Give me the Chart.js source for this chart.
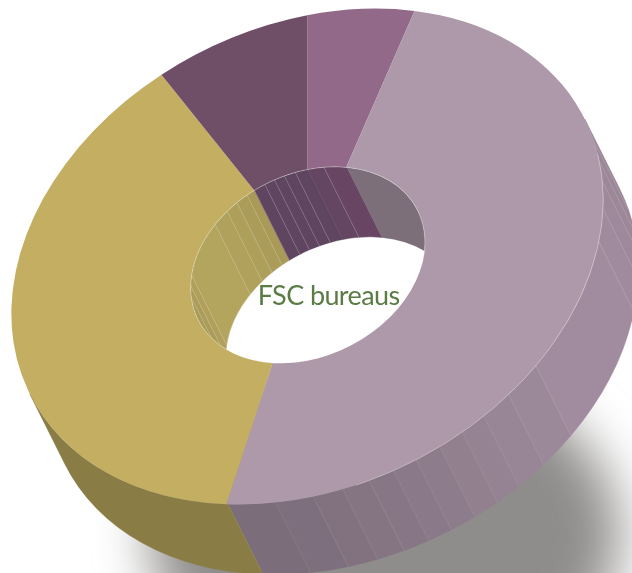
<!DOCTYPE html>
<html><head><meta charset="utf-8">
<style>html,body{margin:0;padding:0;background:#fff}canvas{display:block}</style>
<script src="https://cdn.jsdelivr.net/npm/chart.js@4"></script>
</head><body>
<canvas id="c" width="632" height="573"></canvas>
<script>
// Data: shares
const categories = ["Pink", "Mauve", "Gold", "Purple"];
const shareValues = [5.9, 48.5, 37.4, 8.2];
const shareColors = ["#93698a", "#ae99aa", "#c3ae62", "#6f4e68"];
const centerLabel = "FSC bureaus";
// Facets of the outer wall, in degrees, clockwise from the first slice
const outerFacetValues = [21.07,48.6,5.9,5.07,5.03,6.48,7.72,29.6,7.69,6.22,5.01,5.02,4.97,4.64,4.91,5.18,5.75,7.28,9.4,54.13,80.4,29.93];
const outerFacetColors = ["#93698a","#a08c9e","#988495","#9b8798","#9c8899","#9d899b","#9f8b9d","#a08c9e","#9b8899","#988696","#958393","#92808e","#8d7c8b","#897989","#867686","#857583","#827280","#7e6f7e","#7b6d7a","#8a7c45","#8a7c45","#6f4e68"];
// Facets of the inner wall
const innerFacetValues = [14.4,7,6.4,30.3,8.8,6.2,6,4.1,5.6,5,5,5.4,6.1,7.9,11.7,50.3,179.8];
const innerFacetColors = ["#a89a57","#ab9c59","#b0a05c","#b3a45e","#b0a15c","#ae9f5b","#ab9d59","#a99a57","#5f4560","#5f4560","#5f4560","#5f4560","#5f4560","#644662","#684663","#7c6f79","#ffffff"];

// Layout of the tilted ring
const tilt = {a:294.3, b:-31.28, c:-31.28, d:246.0};
const topCenter = [307.3, 256.5], holeCenter = [307.8, 265];
const holeRatio = 0.396, depth = [35, 70];

function place(ctx, arc, center, scale){
  const R = arc.outerRadius, s = (scale||1)/R;
  const a=tilt.a*s, b=tilt.b*s, c=tilt.c*s, d=tilt.d*s;
  ctx.transform(a,b,c,d, center[0]-a*arc.x-c*arc.y, center[1]-b*arc.x-d*arc.y);
}
function depthInChart(R){
  const det = tilt.a*tilt.d - tilt.b*tilt.c;
  return [(tilt.d*depth[0]-tilt.c*depth[1])/det*R, (-tilt.b*depth[0]+tilt.a*depth[1])/det*R];
}
function band(ctx, el, r, dp){
  ctx.beginPath();
  ctx.arc(el.x, el.y, r, el.startAngle, el.endAngle);
  ctx.arc(el.x+dp[0], el.y+dp[1], r, el.endAngle, el.startAngle, true);
  ctx.closePath();
}
function facing(el, dp){
  const m = (el.startAngle+el.endAngle)/2;
  return Math.cos(m)*dp[0]+Math.sin(m)*dp[1];
}
function hair(ctx, el, r, dp, style){
  const x=el.x+r*Math.cos(el.startAngle), y=el.y+r*Math.sin(el.startAngle);
  ctx.strokeStyle=style; ctx.lineWidth=0.6;
  ctx.beginPath(); ctx.moveTo(x,y); ctx.lineTo(x+dp[0],y+dp[1]); ctx.stroke();
}

const ring3d = {
  id:'ring3d',
  beforeDatasetsDraw(chart){
    const ctx=chart.ctx, top=chart.getDatasetMeta(0).data, R=top[0].outerRadius;
    const dp=depthInChart(R), arc0=top[0];
    // soft shadow
    ctx.save();
    ctx.filter='blur(26px)';
    ctx.fillStyle='#8f8d8b';
    ctx.beginPath(); ctx.ellipse(385,535,235,170,0,0,Math.PI*2); ctx.fill();
    ctx.restore();
    // outer wall
    ctx.save();
    place(ctx, arc0, topCenter);
    const facets=chart.getDatasetMeta(1).data;
    facets.forEach((el,i)=>{
      if(facing(el,dp)<=0) return;
      ctx.fillStyle=outerFacetColors[i]; ctx.strokeStyle=outerFacetColors[i]; ctx.lineWidth=0.5;
      band(ctx,el,R,dp); ctx.fill(); ctx.stroke();
    });
    facets.forEach((el,i)=>{
      if(facing(el,dp)>0 && i>2 && i<20) hair(ctx,el,R,dp,'rgba(255,255,255,0.16)');
    });
    ctx.restore();
    ctx.save();
    place(ctx, arc0, topCenter);
  },
  beforeDatasetDraw(chart,args){ if(args.index>0) return false; },
  afterDatasetsDraw(chart){
    const ctx=chart.ctx; ctx.restore();
    const arc0=chart.getDatasetMeta(0).data[0], R=arc0.outerRadius, dp=depthInChart(R);
    // rim highlight
    ctx.save();
    place(ctx, arc0, topCenter);
    ctx.strokeStyle='rgba(255,255,255,0.45)'; ctx.lineWidth=0.7;
    ctx.beginPath(); ctx.arc(arc0.x,arc0.y,R,-0.3,1.3); ctx.stroke();
    ctx.restore();
    // hole with inner wall
    const r=R*holeRatio;
    ctx.save();
    place(ctx, arc0, holeCenter);
    ctx.beginPath(); ctx.arc(arc0.x,arc0.y,r,0,Math.PI*2); ctx.clip();
    ctx.fillStyle='#ffffff'; ctx.fillRect(arc0.x-R,arc0.y-R,2*R,2*R);
    const inner=chart.getDatasetMeta(2).data;
    inner.forEach((el,i)=>{
      if(facing(el,dp)>=0) return;
      ctx.fillStyle=innerFacetColors[i]; ctx.strokeStyle=innerFacetColors[i]; ctx.lineWidth=0.5;
      band(ctx,el,r,dp); ctx.fill(); ctx.stroke();
    });
    inner.forEach((el,i)=>{ if(facing(el,dp)<0 && i>0 && i<15 && i!==13) hair(ctx,el,r,dp,'rgba(255,255,255,0.3)'); });
    ctx.restore();
    ctx.save();
    place(ctx, arc0, holeCenter);
    ctx.strokeStyle='rgba(255,255,255,0.5)'; ctx.lineWidth=0.6;
    ctx.beginPath(); ctx.arc(arc0.x,arc0.y,r,Math.PI*0.55,Math.PI*2.05); ctx.stroke();
    ctx.restore();
    // label
    ctx.save();
    ctx.font='400 27px Lato, "Open Sans", sans-serif';
    ctx.letterSpacing='-0.6px';
    ctx.fillStyle='#5b7c44'; ctx.textAlign='center'; ctx.textBaseline='alphabetic';
    ctx.fillText(centerLabel, 328.7, 305);
    ctx.restore();
  }
};

new Chart(document.getElementById('c'), {
  type:'doughnut',
  data:{
    labels:categories,
    datasets:[
      {label:'Share', data:shareValues, backgroundColor:shareColors, rotation:-6.07, borderWidth:0, clip:false},
      {label:'Outer wall', data:outerFacetValues, backgroundColor:outerFacetColors, rotation:-6.07, weight:0, borderWidth:0, clip:false},
      {label:'Inner wall', data:innerFacetValues, backgroundColor:innerFacetColors, rotation:-116.4, weight:0, borderWidth:0, clip:false}
    ]
  },
  options:{
    responsive:false, animation:false, events:[], cutout:'30%',
    layout:{padding:0},
    plugins:{legend:{display:false}, tooltip:{enabled:false}, title:{display:false}}
  },
  plugins:[ring3d]
});
</script>
</body></html>
